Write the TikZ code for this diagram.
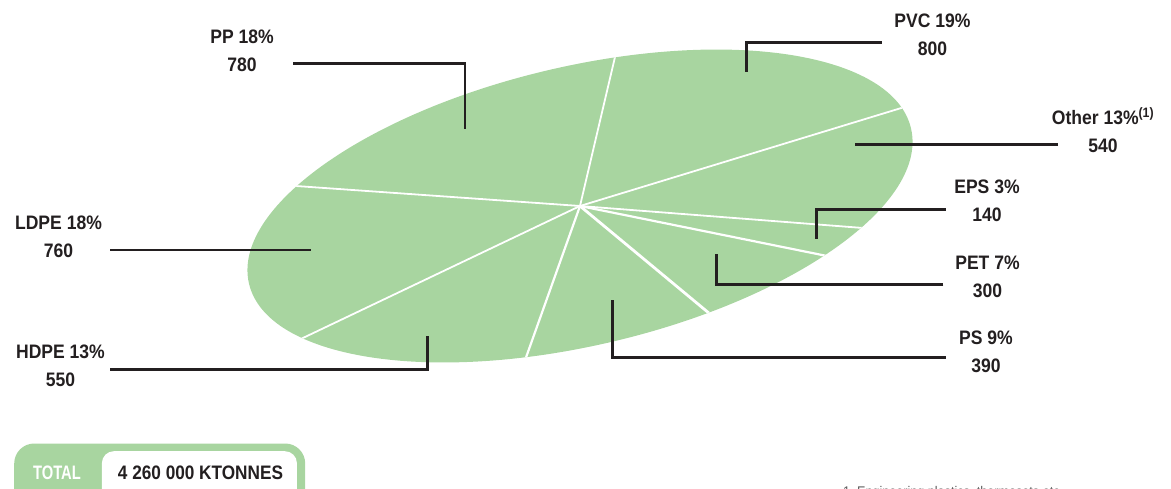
\documentclass[tikz,border=0pt]{standalone}
\usepackage{fontspec}
\setmainfont{Liberation Sans}[FakeStretch=0.9]
\usetikzlibrary{calc}
\definecolor{pie}{RGB}{168,213,160}
\definecolor{ink}{RGB}{35,31,32}
\definecolor{note}{RGB}{90,90,90}

\begin{document}
\begin{tikzpicture}[x=1pt,y=-1pt,
lbl/.style={align=center, text=ink, inner sep=0pt, font=\bfseries\fontsize{19.5}{28}\selectfont},
leader/.style={draw=ink, line width=2.6pt},
spoke/.style={draw=white, line width=1.8pt},
wide spoke/.style={spoke, line width=2.8pt}
]
\useasboundingbox (0,0) rectangle (1171,489);

%pie
\coordinate (c) at (580,206);
\fill[pie] (c) ellipse [x radius=340, y radius=139.5, rotate=13.2];
\begin{scope}
\clip (c) ellipse [x radius=340, y radius=139.5, rotate=13.2];
\draw[spoke] (c) -- ($(c)!1.3!(615,57)$);
\draw[spoke] (c) -- ($(c)!1.3!(899,108.7)$);
\draw[spoke] (c) -- ($(c)!1.3!(863,228)$);
\draw[spoke, line width=2.2pt] (c) -- ($(c)!1.3!(827,256)$);
\draw[wide spoke] (c) -- ($(c)!1.3!(710,314)$);
\draw[spoke, line width=2.2pt] (c) -- ($(c)!1.3!(526,357.5)$);
\draw[spoke] (c) -- ($(c)!1.3!(305,337)$);
\draw[spoke] (c) -- ($(c)!1.3!(296,186)$);
\end{scope}

%create nodes
\node[lbl] (pp) at (242,51) {PP 18\%\\780};
\node[lbl] (pvc) at (932.5,34.3) {PVC 19\%\\800};
\node[lbl] (other) at (1103,130) {Other 13\%\textsuperscript{(1)}\\540};
\node[lbl] (eps) at (987,200.3) {EPS 3\%\\140};
\node[lbl] (pet) at (987.5,277) {PET 7\%\\300};
\node[lbl] (ps) at (986,352) {PS 9\%\\390};
\node[lbl] (ldpe) at (58.5,237) {LDPE 18\%\\760};
\node[lbl] (hdpe) at (60.5,365.3) {HDPE 13\%\\550};

%leader ends
\coordinate (pp-a) at (293,63.3);
\coordinate (pp-b) at (465,129);
\coordinate (pvc-a) at (881.7,42.3);
\coordinate (pvc-b) at (746.7,72.3);
\coordinate (other-a) at (1058,144.3);
\coordinate (other-b) at (855,144.3);
\coordinate (eps-a) at (945.7,209.3);
\coordinate (eps-b) at (816.7,239.3);
\coordinate (pet-a) at (943.3,284.3);
\coordinate (pet-b) at (716.7,253.7);
\coordinate (ps-a) at (945.7,357.7);
\coordinate (ps-b) at (612.7,300);
\coordinate (ldpe-a) at (110,250);
\coordinate (ldpe-b) at (311,250);
\coordinate (hdpe-a) at (110,369.5);
\coordinate (hdpe-b) at (427.3,336);

%draw paths
\draw[leader] (pp-a) -| (pp-b);
\draw[leader] (pvc-a) -| (pvc-b);
\draw[leader] (other-a) -- (other-b);
\draw[leader] (eps-a) -| (eps-b);
\draw[leader] (pet-a) -| (pet-b);
\draw[leader] (ps-a) -| (ps-b);
\draw[leader] (ldpe-a) -- (ldpe-b);
\draw[leader] (hdpe-a) -| (hdpe-b);

%total
\node[fill=pie, rounded corners=20pt, minimum width=291pt, minimum height=70pt, anchor=north west, inner sep=0pt] (total) at (14,443.3) {};
\node[fill=white, rounded corners=12pt, minimum width=195pt, minimum height=60pt, anchor=north west, inner sep=0pt] (totalbox) at (101.7,451) {};
\node[lbl, text=white] (totlbl) at (57,472.3) {\scalebox{0.84}[1]{TOTAL}};
\node[lbl] (totval) at (200.5,472.3) {\scalebox{0.98}[1]{4 260 000 KTONNES}};

\node[anchor=base west, inner sep=0pt, text=note, font=\fontsize{14}{16}\selectfont] (fn) at (843,496) {1\enspace Engineering plastics, thermosets etc.};
\end{tikzpicture}
\end{document}
